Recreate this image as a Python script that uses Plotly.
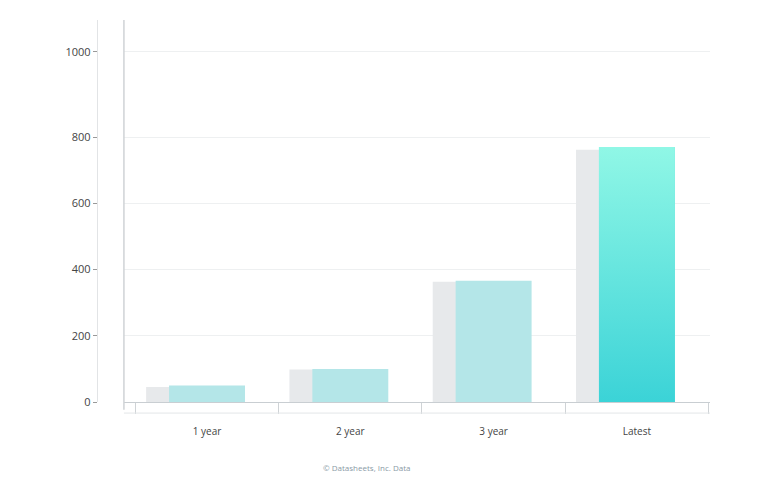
import plotly.graph_objects as go

# ---- data ----
categories = ["1 year", "2 year", "3 year", "Latest"]
current_values = [50, 100, 366, 770]
previous_values = [45, 98, 363, 762]
y_tick_vals = [0, 200, 400, 600, 800, 1058]
y_tick_text = ["0", "200", "400", "600", "800", "1000"]
caption = "© Datasheets, Inc. Data"

x_pos = list(range(len(categories)))
bar_w = 0.53
shadow_shift = 0.16
light_teal = "#b4e6e8"
grey = "#e7e9eb"

fig = go.Figure()

# shadow (previous) bars, offset to the left
fig.add_trace(go.Bar(
    x=x_pos, y=previous_values, width=bar_w,
    offset=-bar_w / 2 - shadow_shift,
    marker=dict(color=grey, line=dict(width=0)),
    hoverinfo="skip", showlegend=False,
))
# current bars
fig.add_trace(go.Bar(
    x=x_pos, y=current_values, width=bar_w,
    marker=dict(color=[light_teal] * (len(categories) - 1) + ["#5fe0de"], line=dict(width=0)),
    showlegend=False,
))
# gradient overlay on the highlighted last bar
i_last = len(categories) - 1
v_last = current_values[i_last]
fig.add_trace(go.Scatter(
    x=[i_last - bar_w / 2, i_last - bar_w / 2, i_last + bar_w / 2, i_last + bar_w / 2, i_last - bar_w / 2],
    y=[0, v_last, v_last, 0, 0],
    mode="lines", line=dict(width=0), fill="toself",
    fillgradient=dict(type="vertical", start=0, stop=v_last,
                      colorscale=[[0, "#3bd3d7"], [1, "#90f7e6"]]),
    hoverinfo="skip", showlegend=False,
))

x_dom0 = 0.112
fig.update_layout(
    width=768, height=480,
    margin=dict(l=42, r=66, t=12, b=86),
    paper_bgcolor="white", plot_bgcolor="white",
    barmode="overlay",
    font=dict(family="Open Sans", color="#555"),
    xaxis=dict(
        domain=[x_dom0, 1],
        range=[-0.58, len(categories) - 0.49],
        tickvals=x_pos, ticktext=categories,
        ticks="", showgrid=False, zeroline=False,
        showline=True, linecolor="#c9ced2", linewidth=1.2,
        tickfont=dict(size=10, color="#444"),
        ticklabelstandoff=20,
        minor=dict(tickvals=[p - 0.5 for p in x_pos] + [len(categories) - 0.5],
                   ticks="outside", ticklen=11, tickcolor="#cfd3d6", showgrid=False),
    ),
    yaxis=dict(
        anchor="free", position=0.071,
        range=[0, 1154],
        tickvals=y_tick_vals, ticktext=y_tick_text,
        ticks="outside", ticklen=4, tickcolor="#999",
        showline=True, linecolor="#e2e4e6", linewidth=1,
        showgrid=True, gridcolor="#eef0f1", zeroline=False,
        tickfont=dict(size=11, color="#444"),
    ),
    shapes=[
        dict(type="line", xref="paper", yref="paper",
             x0=x_dom0, x1=x_dom0, y0=-0.02, y1=1,
             line=dict(color="#cfd3d6", width=1.5)),
        dict(type="line", xref="paper", yref="paper",
             x0=x_dom0, x1=1, y0=-0.029, y1=-0.029,
             line=dict(color="#e3e6e8", width=1)),
    ],
    annotations=[dict(text=caption, xref="paper", yref="paper",
                      x=0.48, y=-0.19, showarrow=False,
                      font=dict(size=8, color="#8a9aa6"))],
)

fig.write_html("out.html")
